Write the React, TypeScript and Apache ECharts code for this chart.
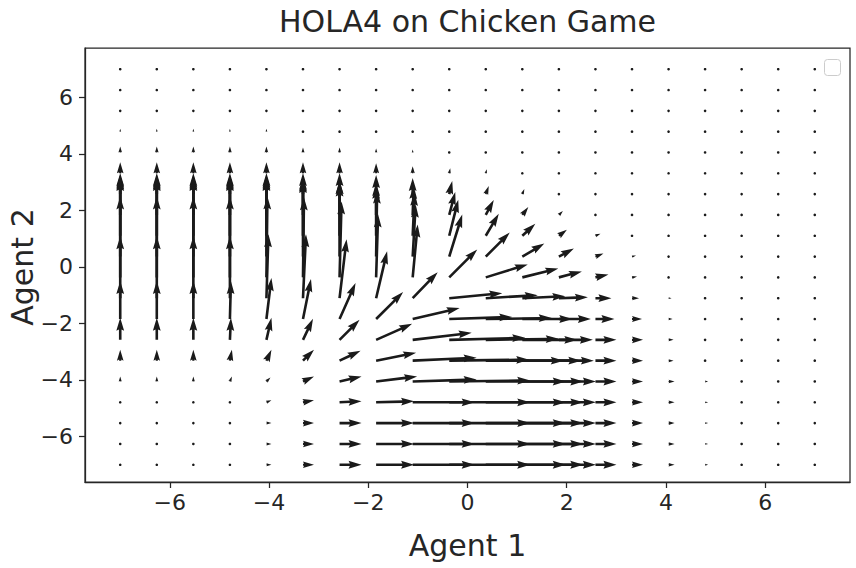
import React, { useEffect, useRef } from "react";
import * as echarts from "echarts";

// grid positions of the quiver (agent 1 on x, agent 2 on y, rows top -> bottom)
const X_VALUES = [-7, -6.263, -5.526, -4.789, -4.053, -3.316, -2.579, -1.842, -1.105, -0.368, 0.368, 1.105, 1.842, 2.579, 3.316, 4.053, 4.789, 5.526, 6.263, 7];
const Y_VALUES = [7, 6.263, 5.526, 4.789, 4.053, 3.316, 2.579, 1.842, 1.105, 0.368, -0.368, -1.105, -1.842, -2.579, -3.316, -4.053, -4.789, -5.526, -6.263, -7];

// horizontal component per row (top row first)
const U_ROWS = [
  [0,0,0,0,0,0,0,0,0,0,0,0,0,0,0,0,0,0,0,0],
  [0,0,0,0,0,0,0,0,0,0,0,0,0,0,0,0,0,0,0,0],
  [0,0,0,0,0,0,0,0,0,0,0,0,0,0,0,0,0,0,0,0],
  [0,0,0,0,0,0,0,0,0,0,0,0,0,0,0,0,0,0,0,0],
  [0,0,0,0,0,0,0,0,0,0,0,0,0,0,0,0,0,0,0,0],
  [0,0,0,0,0,0,0,0,0,1,1,0,0,0,0,0,0,0,0,0],
  [0,0,0,0,0,0,0,0,0,3,3,2,1,1,0,0,0,0,0,0],
  [0,0,0,0,0,0,0,0,1,6,8,6,4,2,0,0,0,0,0,0],
  [0,0,0,0,0,0,0,0,2,9,13,13,8,5,1,0,0,0,0,0],
  [0,0,0,0,0,0,0,1,3,13,24,22,15,8,4,1,0,0,0,0],
  [0,0,0,0,1,1,2,2,5,28,42,36,23,13,5,2,0,0,0,0],
  [0,0,0,0,2,3,7,11,25,53,52,43,29,16,7,3,0,0,0,0],
  [0,0,0,1,5,8,16,27,47,63,66,50,32,19,10,4,1,0,0,0],
  [0,0,0,1,5,10,20,36,59,76,73,55,34,21,11,5,2,0,0,0],
  [0,0,0,2,5,11,21,40,64,80,78,59,35,21,11,5,2,0,0,0],
  [0,0,0,2,4,11,22,41,64,81,80,61,37,21,11,6,3,0,0,0],
  [0,0,0,1,5,11,22,38,62,81,80,61,37,21,11,6,3,0,0,0],
  [0,0,0,2,5,11,22,38,62,81,80,61,37,21,11,6,3,0,0,0],
  [0,0,0,2,5,11,22,38,62,81,80,61,37,21,11,6,3,0,0,0],
  [0,0,0,2,5,11,22,38,62,81,80,61,37,21,11,6,3,0,0,0],
];

// vertical component per row (top row first)
const V_ROWS = [
  [0,0,0,0,0,0,0,0,0,0,0,0,0,0,0,0,0,0,0,0],
  [0,0,0,0,0,0,0,0,0,0,0,0,0,0,0,0,0,0,0,0],
  [0,0,0,0,0,0,0,0,0,0,0,0,0,0,0,0,0,0,0,0],
  [3,3,3,3,3,2,2,1,0,0,0,0,0,0,0,0,0,0,0,0],
  [6,6,6,6,6,5,5,4,3,2,1,0,0,0,0,0,0,0,0,0],
  [11,11,11,11,11,11,11,10,7,5,4,1,0,0,0,0,0,0,0,0],
  [21,21,21,21,21,21,21,19,16,13,8,5,2,1,0,0,0,0,0,0],
  [37,37,37,37,37,35,34,32,29,23,15,8,4,1,0,0,0,0,0,0],
  [61,61,61,61,61,59,55,50,43,36,22,12,6,2,0,0,0,0,0,0],
  [80,80,80,80,80,78,73,66,52,42,24,13,8,3,1,0,0,0,0,0],
  [81,81,81,81,81,80,76,63,53,28,13,9,6,3,1,0,0,0,0,0],
  [62,62,62,62,64,64,59,47,26,5,3,2,1,0,0,0,0,0,0,0],
  [38,38,38,38,41,40,36,27,11,2,1,0,0,0,0,0,0,0,0,0],
  [22,22,22,22,22,21,20,16,7,2,1,0,0,0,0,0,0,0,0,0],
  [11,11,11,11,11,11,10,8,3,1,0,0,0,0,0,0,0,0,0,0],
  [5,5,5,5,4,5,5,5,2,1,0,0,0,0,0,0,0,0,0,0],
  [2,2,2,1,2,2,1,1,0,0,0,0,0,0,0,0,0,0,0,0],
  [0,0,0,0,0,0,0,0,0,0,0,0,0,0,0,0,0,0,0,0],
  [0,0,0,0,0,0,0,0,0,0,0,0,0,0,0,0,0,0,0,0],
  [0,0,0,0,0,0,0,0,0,0,0,0,0,0,0,0,0,0,0,0],
];

const X_TICKS = [-6, -4, -2, 0, 2, 4, 6];
const Y_TICKS = [-6, -4, -2, 0, 2, 4, 6];

const TITLE = "HOLA4 on Chicken Game";
const X_LABEL = "Agent 1";
const Y_LABEL = "Agent 2";

const FONT = "DejaVu Sans";
const INK = "#262626";
const ARROW = "#1a1a1a";
const SHAFT = 2.6; // shaft width in px
const PX_PER_UNIT = 1; // quiver scale

const fmt = (v: number) => (v < 0 ? "\u2212" + Math.abs(v) : String(v));

function renderArrow(params: any, api: any) {
  const p = api.coord([api.value(0), api.value(1)]);
  const u = api.value(2);
  const v = api.value(3);
  const L = Math.hypot(u, v) * PX_PER_UNIT;
  const w = SHAFT;
  if (L < w) {
    return {
      type: "circle",
      shape: { cx: p[0], cy: p[1], r: w / 2 },
      style: { fill: ARROW },
    };
  }
  let local: number[][];
  if (L >= 5 * w) {
    local = [
      [0, -0.5 * w], [L - 4.5 * w, -0.5 * w], [L - 5 * w, -1.5 * w], [L, 0],
      [L - 5 * w, 1.5 * w], [L - 4.5 * w, 0.5 * w], [0, 0.5 * w],
    ];
  } else {
    const s = (L / (5 * w)) * w;
    local = [
      [0, -0.5], [0.5, -0.5], [0, -1.5], [5, 0], [0, 1.5], [0.5, 0.5], [0, 0.5],
    ].map(([a, b]) => [a * s, b * s]);
  }
  const ang = Math.atan2(-v, u);
  const c = Math.cos(ang);
  const sn = Math.sin(ang);
  const points = local.map(([a, b]) => [p[0] + a * c - b * sn, p[1] + a * sn + b * c]);
  return { type: "polygon", shape: { points }, style: { fill: ARROW } };
}

export default function App() {
  const ref = useRef<HTMLDivElement>(null);
  useEffect(() => {
    if (!ref.current) return;
    const chart = echarts.init(ref.current, undefined, { renderer: "svg" });
    const data: number[][] = [];
    Y_VALUES.forEach((y, j) => {
      X_VALUES.forEach((x, i) => {
        data.push([x, y, U_ROWS[j][i], V_ROWS[j][i]]);
      });
    });
    chart.setOption({
      animation: false,
      backgroundColor: "#ffffff",
      textStyle: { fontFamily: FONT },
      grid: {
        left: 85, top: 48, width: 765, height: 434,
        show: true, borderColor: INK, borderWidth: 1.25, backgroundColor: "transparent",
      },
      xAxis: {
        type: "value", min: -7.71, max: 7.71,
        axisLine: { show: true, onZero: false, lineStyle: { color: INK, width: 1.25 } },
        axisTick: { show: true, length: 6, customValues: X_TICKS, lineStyle: { color: INK, width: 1.25 } },
        axisLabel: { customValues: X_TICKS, formatter: fmt, fontSize: 22, color: INK, margin: 9, fontFamily: FONT },
        splitLine: { show: false },
      },
      yAxis: {
        type: "value", min: -7.61, max: 7.75,
        axisLine: { show: true, onZero: false, lineStyle: { color: INK, width: 1.25 } },
        axisTick: { show: true, length: 6, customValues: Y_TICKS, lineStyle: { color: INK, width: 1.25 } },
        axisLabel: { customValues: Y_TICKS, formatter: fmt, fontSize: 22, color: INK, margin: 12, fontFamily: FONT },
        splitLine: { show: false },
      },
      series: [
        {
          type: "custom",
          coordinateSystem: "cartesian2d",
          renderItem: renderArrow,
          encode: { x: 0, y: 1 },
          data,
          silent: true,
          clip: false,
        },
      ],
      graphic: [
        {
          type: "text", x: 467.5, y: 21,
          style: { text: TITLE, fontSize: 30, fontFamily: FONT, fill: INK, align: "center", verticalAlign: "middle" },
        },
        {
          type: "text", x: 467.5, y: 545,
          style: { text: X_LABEL, fontSize: 30, fontFamily: FONT, fill: INK, align: "center", verticalAlign: "middle" },
        },
        {
          type: "text", x: 22, y: 267, rotation: Math.PI / 2,
          style: { text: Y_LABEL, fontSize: 30, fontFamily: FONT, fill: INK, align: "center", verticalAlign: "middle" },
        },
        {
          type: "rect",
          shape: { x: 824.5, y: 59.5, width: 16, height: 16, r: 3 },
          style: { fill: "rgba(255,255,255,0.8)", stroke: "#cccccc", lineWidth: 1 },
        },
      ],
    });
    return () => chart.dispose();
  }, []);
  return (
    <div
      ref={ref}
      style={{ position: "fixed", left: 0, top: 0, width: 856, height: 568 }}
    />
  );
}
